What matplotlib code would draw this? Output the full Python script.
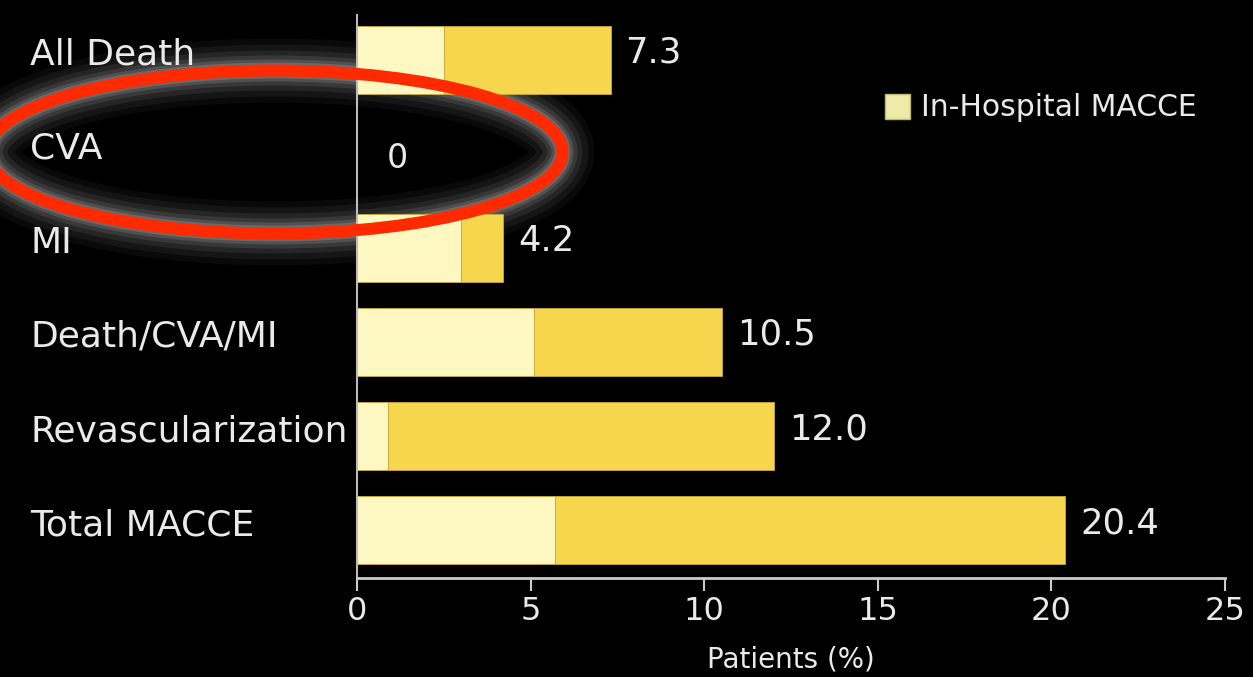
import matplotlib
matplotlib.use("Agg")
import matplotlib.pyplot as plt
from matplotlib.patches import Ellipse, Patch

categories = ["All Death", "CVA", "MI", "Death/CVA/MI", "Revascularization", "Total MACCE"]
in_hospital = [2.5, 0.0, 3.0, 5.1, 0.9, 5.7]
totals = [7.3, 0.0, 4.2, 10.5, 12.0, 20.4]
total_labels = ["7.3", "0", "4.2", "10.5", "12.0", "20.4"]
xticks = [0, 5, 10, 15, 20, 25]

light = "#FDF8C2"
gold = "#F6D64C"
edge = "#C9A93A"
txt = "#EAEAEA"
plt.rcParams['font.family'] = ['DejaVu Sans']

fig = plt.figure(figsize=(12.53, 6.77), dpi=100, facecolor="black")
ax = fig.add_axes([0.285, 0.1462, 0.6927, 0.832])
ax.set_facecolor("none")

y = list(range(len(categories)))
later = [t - h for t, h in zip(totals, in_hospital)]
ax.barh(y, in_hospital, height=0.72, color=light, edgecolor=edge, linewidth=0.6, zorder=2)
ax.barh(y, later, left=in_hospital, height=0.72, color=gold, edgecolor=edge, linewidth=0.6, zorder=2)

for yi, t, lab in zip(y, totals, total_labels):
    off = 15 if t > 0 else 30
    ax.annotate(lab, (t, yi), xytext=(off, 7 if t > 0 else -5), textcoords="offset pixels",
                va="center", ha="left", color=txt, fontsize=25.5 if t > 0 else 24)

ax.set_xlim(0, 25)
ax.set_ylim(5.51, -0.48)
ax.set_yticks(y)
ax.set_yticklabels([])
ax.tick_params(axis="y", length=0)
for yi, cat in zip(y, categories):
    ax.annotate(cat, xy=(30, yi), xycoords=("figure pixels", "data"),
                xytext=(0, 5), textcoords="offset pixels",
                ha="left", va="center", color=txt, fontsize=26, annotation_clip=False)

ax.set_xticks(xticks)
ax.set_xticklabels([str(v) for v in xticks], color=txt, fontsize=23)
ax.tick_params(axis="x", colors="#CCCCCC", length=9, width=1.5, labelcolor=txt, pad=4)
ax.set_xlabel("Patients (%)", color=txt, fontsize=20, labelpad=13)

for s in ["top", "right"]:
    ax.spines[s].set_visible(False)
ax.spines["left"].set_color("#BBBBBB")
ax.spines["left"].set_linewidth(1.5)
ax.spines["bottom"].set_color("#CCCCCC")
ax.spines["bottom"].set_linewidth(2)

leg = fig.legend(handles=[Patch(facecolor="#EEEAA8", edgecolor="#BDB870", label="In-Hospital MACCE")],
                 loc="center left", bbox_to_anchor=(885 / 1253, 1 - 108 / 677), frameon=False,
                 fontsize=21.5, handlelength=0.85, handleheight=0.9, handletextpad=0.35,
                 borderpad=0, borderaxespad=0)
for t in leg.get_texts():
    t.set_color(txt)

# red highlight ellipse with glow (figure pixel coordinates); glow sits behind bars
cx, cy = 275, 677 - 152
w, h = 575, 163
for lw, a in [(64, 0.04), (52, 0.05), (40, 0.07), (30, 0.09), (22, 0.12), (16, 0.15)]:
    fig.add_artist(Ellipse((cx, cy), w, h, transform=None, fill=False,
                           edgecolor="white", linewidth=lw * 0.72, alpha=a, zorder=-1))
fig.add_artist(Ellipse((cx, cy), w, h, transform=None, fill=False,
                       edgecolor="#FF2A00", linewidth=12 * 0.72, zorder=6))

fig.savefig("out.png", dpi=100, facecolor="black")
